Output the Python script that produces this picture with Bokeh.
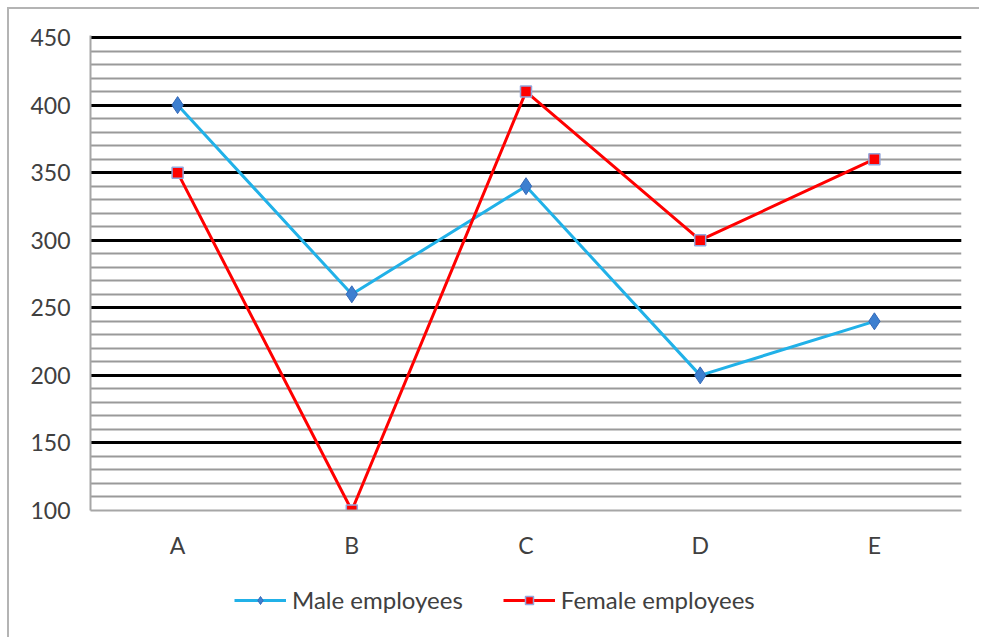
from bokeh.plotting import figure
from bokeh.layouts import column
from bokeh.models import FactorRange, Range1d, SingleIntervalTicker, Legend, LegendItem
from bokeh.embed import file_html
from bokeh.resources import INLINE

categories = ["A", "B", "C", "D", "E"]
male = [400, 260, 340, 200, 240]
female = [350, 100, 410, 300, 360]
series_names = ["Male employees", "Female employees"]
y_ticks_interval = 50

FONT = "Lato"
MALE_LINE, MALE_FILL, MALE_EDGE = "#21b1e8", "#3d7fd0", "#3569b8"
FEM_LINE, FEM_FILL, FEM_EDGE = "#ff0000", "#ff0000", "#93a6dc"

p = figure(frame_width=871, frame_height=475, output_backend="svg", toolbar_location=None,
           x_range=FactorRange(*categories, range_padding=0),
           y_range=Range1d(100, 451.5),
           min_border_left=81, min_border_right=18, min_border_top=26, min_border_bottom=0)
p.outline_line_color = None
p.background_fill_color = "white"

p.xgrid.grid_line_color = None
p.yaxis.ticker = SingleIntervalTicker(interval=y_ticks_interval, num_minor_ticks=5)
p.ygrid.grid_line_color = "black"
p.ygrid.grid_line_width = 3
p.ygrid.minor_grid_line_color = "#9a9a9a"
p.ygrid.minor_grid_line_width = 2

for ax in (p.xaxis, p.yaxis):
    ax.axis_line_color = "#a6a6a6"
    ax.axis_line_width = 2
    ax.major_tick_line_color = None
    ax.minor_tick_line_color = None
    ax.major_tick_out = 0
    ax.major_tick_in = 0
    ax.minor_tick_out = 0
    ax.major_label_text_font = FONT
    ax.major_label_text_font_size = "23px"
    ax.major_label_text_color = "#404040"
p.yaxis.major_label_standoff = 20
p.xaxis.major_label_standoff = 20

p.line(categories, male, line_color=MALE_LINE, line_width=3)
p.scatter(categories, male, marker="diamond", size=17, fill_color=MALE_FILL,
          line_color=MALE_EDGE, line_width=1)
p.line(categories, female, line_color=FEM_LINE, line_width=3)
p.scatter(categories, female, marker="square", size=11, fill_color=FEM_FILL,
          line_color=FEM_EDGE, line_width=1.5)

# legend strip below the chart (legend keys only; NaN proxies draw nothing)
nan = [float("nan")]
q = figure(width=970, height=80, output_backend="svg", toolbar_location=None,
           x_axis_type=None, y_axis_type=None,
           min_border_left=0, min_border_right=0, min_border_top=0, min_border_bottom=0)
q.outline_line_color = None
q.xgrid.grid_line_color = None
q.ygrid.grid_line_color = None
ml = q.line(nan, nan, line_color=MALE_LINE, line_width=3)
ms = q.scatter(nan, nan, marker="diamond", size=17, fill_color=MALE_FILL,
               line_color=MALE_EDGE, line_width=1)
fl = q.line(nan, nan, line_color=FEM_LINE, line_width=3)
fs = q.scatter(nan, nan, marker="square", size=11, fill_color=FEM_FILL,
               line_color=FEM_EDGE, line_width=1.5)

legend = Legend(items=[LegendItem(label=series_names[0], renderers=[ml, ms]),
                       LegendItem(label=series_names[1], renderers=[fl, fs])],
                orientation="horizontal", location=(144, 27))
legend.border_line_color = None
legend.background_fill_alpha = 0
legend.label_text_font = FONT
legend.label_text_font_size = "24px"
legend.label_text_color = "#404040"
legend.glyph_width = 52
legend.glyph_height = 20
legend.label_standoff = 6
legend.spacing = 40
legend.margin = 0
legend.padding = 0
q.add_layout(legend, "center")

layout = column(p, q, spacing=0)
layout.styles = {"border-left": "2px solid #b4b4b4", "border-top": "2px solid #b4b4b4",
                 "margin-left": "7px", "margin-top": "7px"}

open("out.html", "w").write(file_html(layout, INLINE))
